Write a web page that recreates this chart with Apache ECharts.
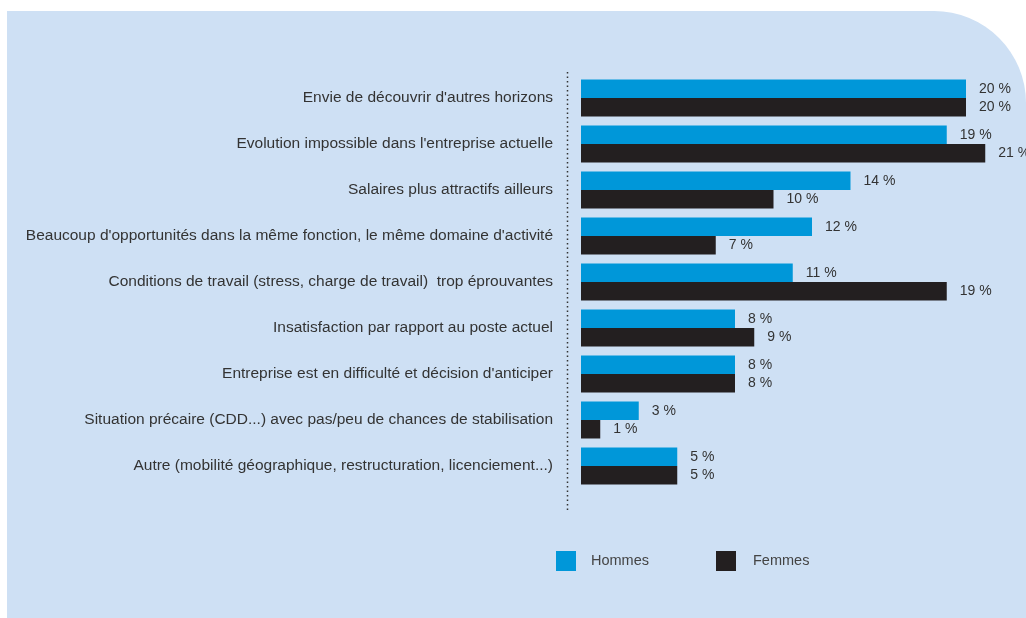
<!DOCTYPE html>
<html>
<head>
<meta charset="utf-8">
<script src="https://cdn.jsdelivr.net/npm/echarts@6/dist/echarts.min.js"></script>
<style>
  html, body { margin: 0; padding: 0; background: #ffffff; }
  #chart { width: 1026px; height: 618px; }
</style>
</head>
<body>
<div id="chart"></div>
<script>
// Raisons du départ, par sexe (en %)
const categories = [
  "Envie de découvrir d'autres horizons",
  "Evolution impossible dans l'entreprise actuelle",
  "Salaires plus attractifs ailleurs",
  "Beaucoup d'opportunités dans la même fonction, le même domaine d'activité",
  "Conditions de travail (stress, charge de travail)  trop éprouvantes",
  "Insatisfaction par rapport au poste actuel",
  "Entreprise est en difficulté et décision d'anticiper",
  "Situation précaire (CDD...) avec pas/peu de chances de stabilisation",
  "Autre (mobilité géographique, restructuration, licenciement...)"
];
const hommes = [20, 19, 14, 12, 11, 8, 8, 3, 5];
const femmes = [20, 21, 10, 7, 19, 9, 8, 1, 5];

const BLUE = '#0097d9';
const DARK = '#231f20';
const PANEL = '#cee0f4';
const TEXT = '#333333';
const FONT = '"Liberation Sans", Arial, sans-serif';

const chart = echarts.init(document.getElementById('chart'), null, { renderer: 'canvas' });

const valueLabel = {
  show: true,
  position: 'right',
  distance: 13,
  color: TEXT,
  fontFamily: FONT,
  fontSize: 14,
  formatter: p => p.value + ' %'
};

const legendText = { color: '#444', fontFamily: FONT, fontSize: 14.5 };

chart.setOption({
  backgroundColor: '#ffffff',
  animation: false,
  graphic: [
    {
      type: 'rect',
      z: -10,
      silent: true,
      shape: { x: 7, y: 11, width: 1019, height: 607, r: [0, 92, 0, 0] },
      style: { fill: PANEL }
    },
    {
      type: 'line',
      z: -5,
      silent: true,
      shape: { x1: 567.5, y1: 72, x2: 567.5, y2: 510 },
      style: { stroke: '#333333', lineWidth: 1.5, lineDash: [1.5, 3] }
    }
  ],
  legend: [
    {
      data: ['Hommes'],
      left: 556, top: 551, padding: 0,
      itemWidth: 20, itemHeight: 20, icon: 'rect',
      textStyle: Object.assign({ padding: [6, 0, 0, 10] }, legendText)
    },
    {
      data: ['Femmes'],
      left: 716, top: 551, padding: 0,
      itemWidth: 20, itemHeight: 20, icon: 'rect',
      textStyle: Object.assign({ padding: [6, 0, 0, 12] }, legendText)
    }
  ],
  grid: { left: 581, top: 75, width: 423.5, height: 414, containLabel: false },
  xAxis: {
    type: 'value', min: 0, max: 22,
    show: false,
    splitLine: { show: false }
  },
  yAxis: {
    type: 'category',
    data: categories,
    inverse: true,
    axisLine: { show: false },
    axisTick: { show: false },
    axisLabel: {
      margin: 28,
      color: TEXT,
      fontFamily: FONT,
      fontSize: 15.5
    }
  },
  series: [
    {
      name: 'Hommes', type: 'bar', data: hommes,
      itemStyle: { color: BLUE },
      barGap: '0%', barCategoryGap: '19.6%',
      label: valueLabel
    },
    {
      name: 'Femmes', type: 'bar', data: femmes,
      itemStyle: { color: DARK },
      barGap: '0%', barCategoryGap: '19.6%',
      label: valueLabel
    }
  ]
});
</script>
</body>
</html>
